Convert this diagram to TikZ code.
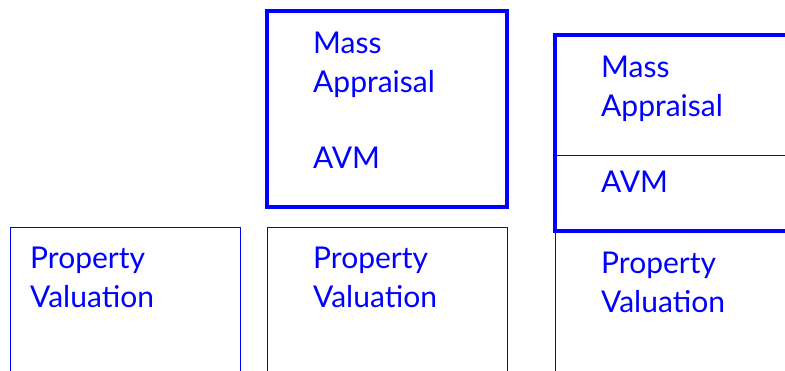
\documentclass[tikz,border=0pt]{standalone}
\usepackage{fontspec}
\setmainfont{Lato}
\begin{document}
\begin{tikzpicture}[x=1pt, y=-1pt,
    frame/.style={blue, line width=1pt},
    heavy/.style={blue, line width=4pt},
    txt/.style={blue, anchor=base west, inner sep=0pt, align=left,
                font=\fontsize{30}{38.4}\selectfont}]
    \useasboundingbox (0,0) rectangle (785,370);
    \clip (0,0) rectangle (785,370);
    % valuation alone
    \draw[frame] (10,400) -- (10,227) -- (240,227) -- (240,400);
    \node[txt] (val1) at (30,307) {Property\\Valuation};
    % mass appraisal set on top
    \draw[frame] (267,400) -- (267,227) -- (507,227) -- (507,400);
    \node[txt] (val2) at (313,307) {Property\\Valuation};
    \draw[heavy] (267,11) rectangle (507,207);
    \node[txt] (mass2) at (313,92) {Mass\\Appraisal};
    \node[txt] (avm2) at (313,168) {AVM};
    % avm split off
    \draw[heavy] (555,35) rectangle (820,230.5);
    \draw[frame] (555,155) -- (820,155);
    \draw[frame] (555,230) -- (555,400);
    \node[txt] (mass3) at (601,116) {Mass\\Appraisal};
    \node[txt] (avm3) at (601,192) {AVM};
    \node[txt] (val3) at (601,312) {Property\\Valuation};
\end{tikzpicture}
\end{document}
